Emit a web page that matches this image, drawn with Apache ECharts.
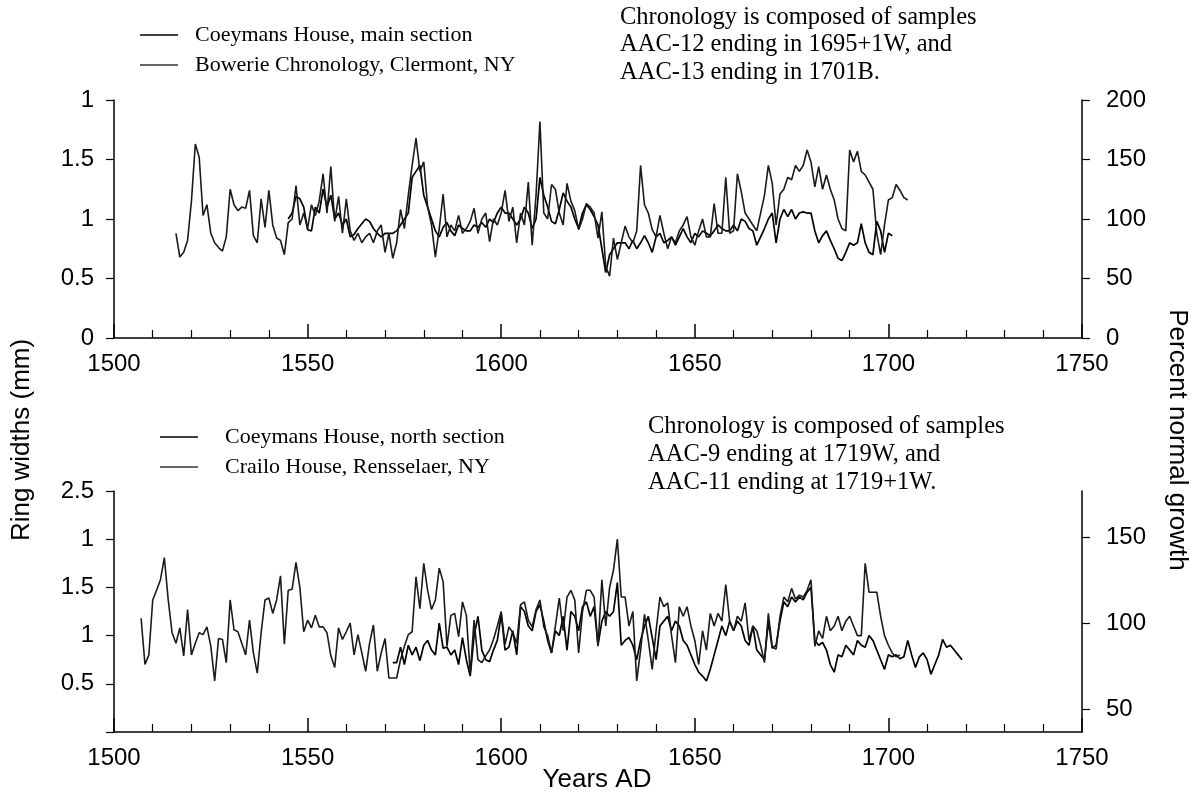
<!DOCTYPE html>
<html><head><meta charset="utf-8">
<script src="https://cdn.jsdelivr.net/npm/echarts@6/dist/echarts.min.js"></script>
<style>html,body{margin:0;padding:0;background:#fff}#c{width:1196px;height:801px}</style>
</head><body><div id="c"></div>
<script>
// ---------------- DATA ----------------
// Top panel
const coeymansMainStart = 1545; // ring widths (mm)
const coeymansMainValues = [
  1.00, 1.05, 1.19, 1.17, 1.10, 0.91,
  0.90, 1.10, 1.05, 1.25, 1.10,
  1.20, 1.00, 1.05, 0.95, 1.00,
  0.85, 0.87, 0.92, 0.96, 1.00,
  0.98, 0.92, 0.88, 0.85, 0.88,
  0.88, 0.88, 0.90, 0.95, 1.00,
  1.05, 1.35, 1.40, 1.45, 1.20,
  1.10, 1.00, 0.90, 0.85, 0.93,
  0.97, 0.90, 0.86, 0.95, 0.92,
  0.90, 0.90, 0.95, 0.93, 0.97,
  0.93, 1.00, 0.97, 1.05, 1.10,
  1.05, 1.05, 1.00, 0.95, 1.00,
  1.10, 1.05, 0.92, 1.00, 1.35,
  1.20, 1.10, 0.98, 0.96, 1.08,
  1.22, 1.15, 1.10, 1.00, 0.92,
  1.05, 1.12, 1.08, 1.02, 0.95,
  0.75, 0.55, 0.70, 0.75, 0.80,
  0.80, 0.80, 0.75, 0.82, 0.75,
  0.80, 0.86, 0.80, 0.72, 0.85,
  0.88, 0.80, 0.82, 0.85, 0.78,
  0.85, 0.92, 0.85, 0.80, 0.88,
  0.85, 0.90, 0.88, 0.86, 0.90,
  0.95, 0.92, 0.90, 0.90, 0.95,
  0.90, 1.00, 0.98, 0.92, 0.90,
  0.78, 0.85, 0.92, 1.00, 1.05,
  0.80, 1.00, 1.08, 1.02, 1.08,
  1.00, 1.05, 1.06, 1.05, 1.05,
  0.90, 0.80, 0.86, 0.90, 0.82,
  0.75, 0.67, 0.65, 0.72, 0.80,
  0.78, 0.80, 0.96, 0.80, 0.72,
  0.70, 0.98, 0.90, 0.72, 0.88,
  0.86
];
const bowerieStart = 1516; // percent normal growth
const bowerieValues = [
  88, 68, 72, 82, 115, 163, 152, 103, 112, 88,
  80, 76, 73, 85, 125, 112, 107, 110, 109, 124,
  86, 80, 117, 93, 124, 95, 84, 82, 70, 97,
  100, 128, 95, 105, 92, 112, 103, 115, 138, 105,
  144, 98, 119, 88, 117, 90, 82, 88, 80, 85,
  88, 80, 90, 95, 72, 88, 67, 80, 108, 92,
  120, 145, 168, 140, 148, 110, 95, 68, 92, 121,
  85, 95, 90, 103, 88, 92, 98, 109, 88, 100,
  105, 81, 100, 95, 105, 124, 98, 110, 80, 105,
  95, 131, 78, 120, 182, 105, 100, 129, 125, 105,
  95, 130, 115, 107, 91, 100, 113, 110, 105, 84,
  106, 60, 52, 84, 66, 80, 94, 85, 80, 90,
  145, 112, 105, 91, 85, 103, 88, 75, 85, 80,
  90, 95, 102, 85, 78, 90, 100, 85, 85, 113,
  88, 88, 135, 88, 90, 138, 123, 105, 100, 95,
  90, 105, 120, 145, 130, 95, 121, 125, 135, 133,
  145, 140, 145, 158, 148, 127, 144, 125, 137, 125,
  116, 100, 92, 90, 158, 148, 157, 140, 137, 131,
  125, 88, 70, 95, 116, 118, 129, 124, 118, 116
];
// Bottom panel
const coeymansNorthStart = 1572; // ring widths (mm)
const coeymansNorthValues = [
  0.72, 0.72, 0.88, 0.70,
  0.90, 0.80, 0.88, 0.74, 0.90,
  0.95, 0.85, 0.80, 1.13, 0.87,
  0.88, 0.80, 0.85, 0.70, 0.98,
  0.75, 0.58, 1.00, 1.20, 0.85,
  0.75, 0.73, 0.85, 0.95, 1.22,
  0.85, 0.88, 1.05, 0.80, 1.30,
  1.25, 1.10, 1.05, 1.25, 1.32,
  1.15, 0.95, 0.82, 1.05, 1.00,
  1.20, 0.85, 1.25, 1.20, 1.05,
  1.30, 1.35, 1.20, 1.30, 0.90,
  1.15, 1.25, 1.20, 1.25, 1.55,
  0.90, 0.95, 0.98, 0.90, 0.75,
  0.95, 1.10, 1.20, 0.98, 0.75,
  1.10, 1.15, 1.20, 1.05, 1.15,
  1.10, 0.95, 0.90, 0.80, 0.70,
  0.62, 0.58, 0.53, 0.65, 0.80,
  0.95, 1.10, 1.00, 1.15, 1.05,
  1.15, 1.10, 0.95, 0.90, 1.10,
  0.85, 0.80, 0.75, 1.15, 0.87,
  0.90, 1.15, 1.35, 1.30, 1.40,
  1.35, 1.40, 1.37, 1.45, 1.50,
  0.95, 0.90, 0.93, 0.85, 0.70,
  0.62, 0.80, 0.78, 0.90, 0.85,
  0.80, 0.95, 0.90, 0.88, 1.00,
  0.95, 0.85, 0.75, 0.65, 0.80,
  0.78, 0.80, 0.76, 0.78, 0.95,
  0.80, 0.67, 0.78, 0.82, 0.75,
  0.60, 0.70, 0.80, 0.96, 0.88,
  0.90, 0.85, 0.80, 0.75
];
const crailoStart = 1507; // ring widths (mm)
const crailoValues = [
  1.18,
  0.70, 0.80, 1.37,
  1.47, 1.58, 1.81, 1.37, 1.03,
  0.92, 1.08, 0.79, 1.27, 0.80,
  0.92, 1.03, 1.01, 1.09, 0.89,
  0.53, 0.97, 0.96, 0.72, 1.37,
  1.06, 1.04, 0.92, 0.80, 1.16,
  0.82, 0.61, 1.03, 1.37, 1.39,
  1.23, 1.37, 1.62, 0.91, 1.47,
  1.48, 1.76, 1.50, 1.04, 1.16,
  1.08, 1.21, 1.09, 1.09, 1.03,
  0.79, 0.67, 1.08, 0.96, 1.04,
  1.13, 0.80, 1.01, 0.82, 0.63,
  0.92, 1.11, 0.63, 0.82, 0.97,
  0.56, 0.56, 0.56, 0.75, 0.89,
  1.01, 1.04, 1.61, 1.28, 1.75,
  1.47, 1.27, 1.37, 1.70, 1.56,
  0.89, 1.21, 1.23, 0.99, 1.35,
  1.21, 0.61, 1.16, 0.75, 0.72,
  0.79, 0.85, 0.96, 1.10, 1.25,
  0.91, 1.09, 1.03, 0.92, 1.32,
  1.35, 1.16, 1.09, 1.27, 1.37,
  1.09, 1.00, 0.82, 1.10, 1.39,
  1.05, 1.40, 1.47, 1.37, 0.82,
  1.25, 1.47, 1.47, 1.40, 0.89,
  1.58, 1.10, 1.50, 1.68, 2.00,
  1.40, 1.40, 1.10, 1.25, 0.53,
  0.85, 1.22, 0.95, 0.65, 1.05,
  1.40, 1.30, 1.34, 1.00, 0.72,
  1.30, 1.20, 1.30, 1.10, 0.95,
  0.70, 1.05, 0.85, 1.23, 1.10,
  1.23, 1.15, 1.53, 1.15, 1.05,
  1.20, 1.15, 1.34, 0.95, 1.10,
  1.05, 0.90, 0.72, 1.23, 0.88,
  0.86, 1.20, 1.40, 1.35, 1.49,
  1.38, 1.42, 1.40, 1.47, 1.58,
  0.89, 1.05, 0.97, 1.20, 1.05,
  1.10, 1.20, 1.05, 1.15, 1.20,
  1.10, 1.00, 1.00, 1.75, 1.45,
  1.45, 1.45, 1.20, 1.00, 0.90,
  0.82, 0.78, 0.80
];

// Tick labels (as printed on the scanned figure)
const topLeftTickLabels = { '0': '0', '0.5': '0.5', '1': '1', '1.5': '1.5', '2': '1' };
const bottomLeftTickLabels = { '0': '', '0.5': '0.5', '1': '1', '1.5': '1.5', '2': '1', '2.5': '2.5' };
const bottomRightTicks = [50, 100, 150];

const legendTop = ['Coeymans House, main section', 'Bowerie Chronology, Clermont, NY'];
const legendBottom = ['Coeymans House, north section', 'Crailo House, Rensselaer, NY'];
const noteTop = ['Chronology is composed of samples', 'AAC-12 ending in 1695+1W, and', 'AAC-13 ending in 1701B.'];
const noteBottom = ['Chronology is composed of samples', 'AAC-9 ending at 1719W, and', 'AAC-11 ending at 1719+1W.'];

// ---------------- CHART ----------------
function pairs(start, vals) { return vals.map((v, i) => [start + i, v]); }

const SANS = '"Liberation Sans", Arial, sans-serif';
const SERIF = '"Liberation Serif", "Times New Roman", serif';
const tickFont = 24;

const chart = echarts.init(document.getElementById('c'), null, { renderer: 'canvas' });

function xAxisCfg(gi) {
  return {
    type: 'value', gridIndex: gi, min: 1500, max: 1750, interval: 50,
    axisLine: { show: true, onZero: false, lineStyle: { color: '#000', width: 1.5 } },
    axisTick: { show: true, inside: true, length: 14, lineStyle: { color: '#000', width: 1.5 } },
    minorTick: { show: true, splitNumber: 5, length: 8, lineStyle: { color: '#000', width: 1.2 } },
    axisLabel: { color: '#000', fontSize: tickFont, fontFamily: SANS, margin: 14, formatter: v => String(v) },
    splitLine: { show: false }
  };
}
function yAxisBase(gi, pos) {
  return {
    type: 'value', gridIndex: gi, position: pos,
    axisLine: { show: true, onZero: false, lineStyle: { color: '#000', width: 1.5 } },
    axisTick: { show: true, inside: false, length: 8, lineStyle: { color: '#000', width: 1.2 } },
    axisLabel: { color: '#000', fontSize: tickFont, fontFamily: SANS, margin: 24 },
    splitLine: { show: false }
  };
}

const yAxes = [
  Object.assign(yAxisBase(0, 'left'), { min: 0, max: 2, interval: 0.5,
    axisLabel: { color: '#000', fontSize: tickFont, fontFamily: SANS, margin: 20,
      formatter: v => topLeftTickLabels[String(v)] ?? '' } }),
  Object.assign(yAxisBase(0, 'right'), { min: 0, max: 200, interval: 50 }),
  Object.assign(yAxisBase(1, 'left'), { min: 0, max: 2.5, interval: 0.5,
    axisLabel: { color: '#000', fontSize: tickFont, fontFamily: SANS, margin: 20,
      formatter: v => bottomLeftTickLabels[String(v)] ?? '' } }),
  Object.assign(yAxisBase(1, 'right'), { min: 37, max: 177,
    axisTick: { show: true, inside: false, length: 8, customValues: bottomRightTicks, lineStyle: { color: '#000', width: 1.2 } },
    axisLabel: { color: '#000', fontSize: tickFont, fontFamily: SANS, margin: 24, customValues: bottomRightTicks } })
];

const lineStyleA = { color: '#000', width: 1.7 };
const lineStyleB = { color: '#1a1a1a', width: 1.6 };

function textEl(x, y, text, font, align, rot) {
  return {
    type: 'text', x: x, y: y, rotation: rot || 0, silent: true,
    style: { text: text, font: font, fill: '#000', align: align || 'left', verticalAlign: 'middle' }
  };
}
function lineEl(x1, x2, y, col) {
  return { type: 'line', silent: true, shape: { x1: x1, y1: y, x2: x2, y2: y }, style: { stroke: col || '#000', lineWidth: 1.5 } };
}

const legendFont = '22px ' + SERIF;
const noteFont = '24.5px ' + SERIF;
const titleFont = '26px ' + SANS;
const graphics = [
  lineEl(140, 178, 35), textEl(195, 35, legendTop[0], legendFont),
  lineEl(140, 178, 65, '#333'), textEl(195, 65, legendTop[1], legendFont),
  textEl(620, 18, noteTop[0], noteFont), textEl(620, 45, noteTop[1], noteFont), textEl(620, 73, noteTop[2], noteFont),
  lineEl(160, 198, 437), textEl(225, 437, legendBottom[0], legendFont),
  lineEl(160, 198, 467, '#333'), textEl(225, 467, legendBottom[1], legendFont),
  textEl(648, 427, noteBottom[0], noteFont), textEl(648, 455, noteBottom[1], noteFont), textEl(648, 483, noteBottom[2], noteFont),
  textEl(22, 440, 'Ring widths (mm)', titleFont, 'center', Math.PI / 2),
  textEl(1177, 440, 'Percent normal growth', titleFont, 'center', -Math.PI / 2),
  textEl(597, 780, 'Years AD', titleFont, 'center')
];

chart.setOption({
  backgroundColor: '#fff',
  animation: false,
  grid: [
    { left: 114, right: 114, top: 100, height: 238 },
    { left: 114, right: 114, top: 491, height: 241 }
  ],
  xAxis: [xAxisCfg(0), xAxisCfg(1)],
  yAxis: yAxes,
  series: [
    { name: legendTop[0], type: 'line', xAxisIndex: 0, yAxisIndex: 0, data: pairs(coeymansMainStart, coeymansMainValues), showSymbol: false, lineStyle: lineStyleA },
    { name: legendTop[1], type: 'line', xAxisIndex: 0, yAxisIndex: 1, data: pairs(bowerieStart, bowerieValues), showSymbol: false, lineStyle: lineStyleB },
    { name: legendBottom[0], type: 'line', xAxisIndex: 1, yAxisIndex: 2, data: pairs(coeymansNorthStart, coeymansNorthValues), showSymbol: false, lineStyle: lineStyleA },
    { name: legendBottom[1], type: 'line', xAxisIndex: 1, yAxisIndex: 2, data: pairs(crailoStart, crailoValues), showSymbol: false, lineStyle: lineStyleB }
  ],
  graphic: graphics
});
</script>
</body></html>
